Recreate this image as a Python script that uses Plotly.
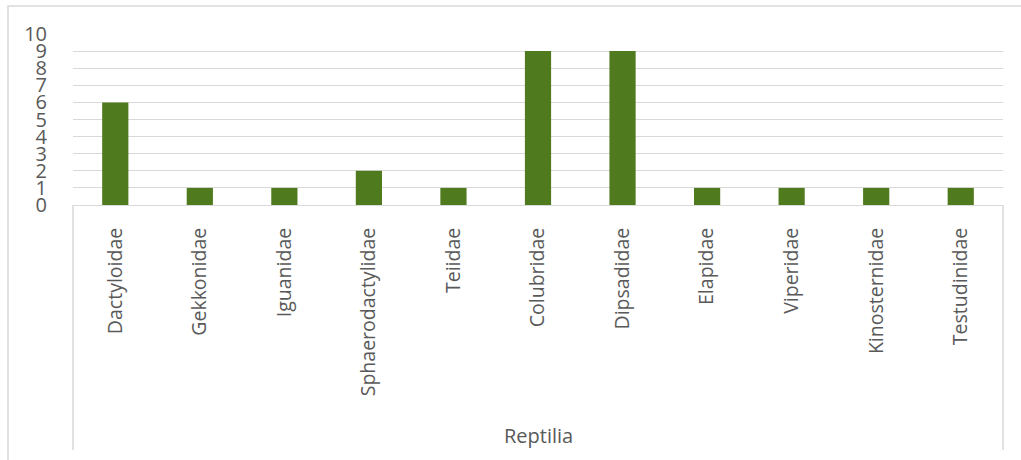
import plotly.graph_objects as go

categories = ["Dactyloidae", "Gekkonidae", "Iguanidae", "Sphaerodactylidae", "Teiidae",
              "Colubridae", "Dipsadidae", "Elapidae", "Viperidae", "Kinosternidae", "Testudinidae"]
counts = [6, 1, 1, 2, 1, 9, 9, 1, 1, 1, 1]
y_ticks = list(range(0, 11))
group_label = "Reptilia"

W, H = 1021, 460
L, R, T, B = 73, 18, 34, 255
ph = H - T - B  # plot height in px

fig = go.Figure()
fig.add_trace(go.Bar(x=categories, y=counts, marker=dict(color="#507A1E", line=dict(width=0)),
                     width=0.31))

gray = "#D9D9D9"
txt = "#595959"
font_family = "Open Sans, Calibri, Carlito, sans-serif"

fig.update_layout(
    width=W, height=H,
    margin=dict(l=L, r=R, t=T, b=B, autoexpand=False),
    paper_bgcolor="white", plot_bgcolor="white",
    showlegend=False,
    font=dict(family=font_family, color=txt),
)
fig.update_xaxes(
    showgrid=False, showline=True, linecolor=gray, linewidth=1,
    tickangle=-90, tickfont=dict(size=19.5, color=txt),
    ticks="outside", ticklen=14, tickcolor="rgba(0,0,0,0)",
    range=[-0.5, len(categories) - 0.5],
)
fig.update_yaxes(
    range=[0, 10], tickvals=y_ticks, showgrid=True, gridcolor=gray, gridwidth=1,
    zeroline=False, showline=False, tickfont=dict(size=20, color=txt),
    ticks="outside", ticklen=21, tickcolor="rgba(0,0,0,0)",
)

# category-axis box lines (vertical lines at plot edges below axis)
ybot = -(450 - (T + ph)) / ph
for xv in (0, 1):
    fig.add_shape(type="line", xref="paper", yref="paper", x0=xv, x1=xv, y0=0, y1=ybot,
                  line=dict(color=gray, width=1.5))

# outer chart border
pw = W - L - R
fig.add_shape(type="rect", xref="paper", yref="paper",
              x0=(8 - L) / pw, x1=(1030 - L) / pw,
              y0=1 + (T - 6) / ph, y1=-(470 - T - ph) / ph,
              line=dict(color=gray, width=1.5), layer="below")

fig.add_annotation(text=group_label, xref="paper", yref="paper", x=0.5,
                   y=-(435 - T - ph) / ph, yanchor="middle", xanchor="center",
                   showarrow=False,
                   font=dict(size=20, color=txt, family=font_family))

fig.write_html("out.html")
